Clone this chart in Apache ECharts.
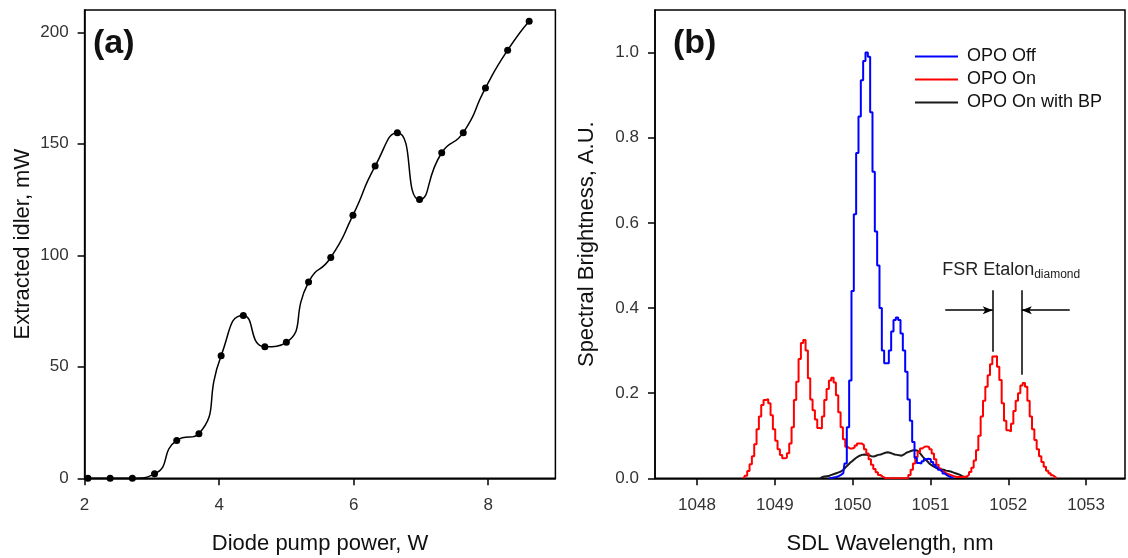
<!DOCTYPE html>
<html>
<head>
<meta charset="utf-8">
<script src="https://cdn.jsdelivr.net/npm/echarts@6/dist/echarts.min.js"></script>
<style>
  html, body { margin: 0; padding: 0; background: #fff; }
  #chart { width: 1128px; height: 558px; }
</style>
</head>
<body>
<div id="chart"></div>
<script>
// ---- (a) extracted idler power vs diode pump power ----
const pumpPowerW = [2.05, 2.38, 2.71, 3.04, 3.37, 3.70, 4.03, 4.36, 4.68, 5.00, 5.33,
                    5.66, 5.99, 6.32, 6.65, 6.98, 7.31, 7.63, 7.96, 8.29, 8.61];
const idlerPowerMW = [0, 0, 0, 2, 17, 20, 55, 73, 59, 61, 88,
                      99, 118, 140, 155, 125, 146, 155, 175, 192, 205];
const pumpTicks = [2, 4, 6, 8];
const idlerTicks = [0, 50, 100, 150, 200];

// ---- (b) SDL spectra, sampled every SAMPLE_STEP nm ----
const SAMPLE_STEP = 0.03;
const OFF_START = 1049.70;   // OPO Off
const ON_START = 1048.60;    // OPO On
const BP_START = 1049.58;    // OPO On with BP

const opoOff = [
  0, 0.001, 0.002, 0.003, 0.005, 0.008, 0.012, 0.035, 0.12, 0.23,
  0.44, 0.62, 0.764, 0.85, 0.935, 0.98, 1.0, 0.99, 0.86, 0.72,
  0.58, 0.5, 0.4, 0.3, 0.27, 0.27, 0.3, 0.345, 0.372, 0.378,
  0.372, 0.34, 0.3, 0.25, 0.185, 0.135, 0.085, 0.048, 0.036, 0.035,
  0.04, 0.045, 0.046, 0.045, 0.038, 0.032, 0.026, 0.02, 0.016, 0.011,
  0.007, 0.004, 0.002, 0
];
const opoOn = [
  0, 0.006, 0.017, 0.033, 0.052, 0.08, 0.115, 0.145, 0.172, 0.184,
  0.186, 0.176, 0.148, 0.115, 0.088, 0.068, 0.055, 0.047, 0.048, 0.059,
  0.082, 0.12, 0.184, 0.227, 0.28, 0.318, 0.325, 0.3, 0.235, 0.185,
  0.16, 0.138, 0.118, 0.117, 0.145, 0.184, 0.21, 0.23, 0.236, 0.225,
  0.195, 0.155, 0.12, 0.092, 0.074, 0.07, 0.07, 0.072, 0.077, 0.082,
  0.082, 0.078, 0.068, 0.058, 0.045, 0.032, 0.022, 0.014, 0.008, 0.004,
  0.001, 0, 0, 0, 0, 0, 0, 0, 0, 0,
  0, 0.008, 0.02, 0.035, 0.05, 0.062, 0.07, 0.074, 0.075, 0.073,
  0.068, 0.058, 0.045, 0.032, 0.023, 0.017, 0.013, 0.01, 0.008, 0.006,
  0.004, 0.003, 0.003, 0.003, 0.003, 0.004, 0.008, 0.015, 0.025, 0.042,
  0.066, 0.1, 0.145, 0.182, 0.215, 0.242, 0.268, 0.286, 0.287, 0.262,
  0.231, 0.176, 0.135, 0.113, 0.11, 0.128, 0.158, 0.182, 0.2, 0.218,
  0.224, 0.215, 0.182, 0.145, 0.115, 0.09, 0.068, 0.052, 0.038, 0.027,
  0.018, 0.012, 0.007, 0.003, 0
];
const opoOnBP = [
  0, 0.003, 0.004, 0.005, 0.006, 0.008, 0.01, 0.012, 0.014, 0.016,
  0.02, 0.026, 0.031, 0.037, 0.041, 0.046, 0.05, 0.053, 0.055, 0.056,
  0.055, 0.054, 0.052, 0.051, 0.053, 0.055, 0.056, 0.058, 0.06, 0.061,
  0.06, 0.058, 0.056, 0.055, 0.054, 0.053, 0.056, 0.06, 0.062, 0.064,
  0.066, 0.066, 0.064, 0.058, 0.051, 0.045, 0.04, 0.034, 0.03, 0.027,
  0.024, 0.022, 0.021, 0.02, 0.018, 0.017, 0.016, 0.014, 0.012, 0.01,
  0.008, 0.005, 0.003, 0
];
const wavelengthTicks = [1048, 1049, 1050, 1051, 1052, 1053];
const brightnessTicks = [0, 0.2, 0.4, 0.6, 0.8, 1.0];

// FSR marker geometry (nm, A.U.)
const fsrLines = [1051.80, 1052.174];
const fsrLineTop = 0.442;
const fsrLineBottoms = [0.297, 0.243];
const fsrArrowLevel = 0.395;
const fsrArrowOuter = [1051.19, 1052.79];
const fsrLabelAt = [1051.15, 0.49];

function spectrum(start, values) {
  return values.map((v, i) => [+(start + i * SAMPLE_STEP).toFixed(3), v]);
}

const FONT = '"Liberation Sans", Arial, Helvetica, sans-serif';
const tickLabel = { fontFamily: FONT, fontSize: 17, color: '#333' };
const axisName = { fontFamily: FONT, fontSize: 22, color: '#111' };
const axisLine = { show: true, lineStyle: { color: '#000', width: 1.5 } };
const axisTickBase = { show: true, length: 7, lineStyle: { color: '#000', width: 1.5 } };

const chart = echarts.init(document.getElementById('chart'), null, { renderer: 'canvas' });

chart.setOption({
  animation: false,
  backgroundColor: '#fff',
  title: [
    { text: '(a)', left: 93, top: 27, padding: 0,
      textStyle: { fontFamily: FONT, fontSize: 34, fontWeight: 'bold', color: '#111' } },
    { text: '(b)', left: 673, top: 27, padding: 0,
      textStyle: { fontFamily: FONT, fontSize: 34, fontWeight: 'bold', color: '#111' } }
  ],
  legend: {
    data: [
      { name: 'OPO Off', icon: 'rect' },
      { name: 'OPO On', icon: 'rect' },
      { name: 'OPO On with BP', icon: 'rect' }
    ],
    orient: 'vertical',
    left: 915,
    top: 46.5,
    padding: 0,
    itemWidth: 43,
    itemHeight: 2,
    itemGap: 3,
    selectedMode: false,
    textStyle: { fontFamily: FONT, fontSize: 18, color: '#111', lineHeight: 20, padding: [0, 0, 0, 4] }
  },
  grid: [
    { left: 84.6, top: 10, width: 470.8, height: 468.3, show: true, outerBoundsMode: 'none',
      borderColor: '#000', borderWidth: 1.5, backgroundColor: 'transparent' },
    { left: 655, top: 10, width: 470, height: 468.3, show: true, outerBoundsMode: 'none',
      borderColor: '#000', borderWidth: 1.5, backgroundColor: 'transparent' }
  ],
  xAxis: [
    {
      gridIndex: 0, type: 'value', min: 2, max: 9,
      name: 'Diode pump power, W', nameLocation: 'middle', nameGap: 55, nameTextStyle: axisName,
      axisLine: axisLine,
      axisTick: Object.assign({ customValues: pumpTicks }, axisTickBase),
      axisLabel: Object.assign({ customValues: pumpTicks, margin: 19 }, tickLabel),
      splitLine: { show: false }
    },
    {
      gridIndex: 1, type: 'value', min: 1047.46, max: 1053.5,
      name: 'SDL Wavelength, nm', nameLocation: 'middle', nameGap: 55, nameTextStyle: axisName,
      axisLine: axisLine,
      axisTick: Object.assign({ customValues: wavelengthTicks }, axisTickBase),
      axisLabel: Object.assign({ customValues: wavelengthTicks, margin: 19,
        formatter: v => String(Math.round(v)) }, tickLabel),
      splitLine: { show: false }
    }
  ],
  yAxis: [
    {
      gridIndex: 0, type: 'value', min: 0, max: 210,
      name: 'Extracted idler, mW', nameLocation: 'middle', nameGap: 51, nameTextStyle: axisName,
      axisLine: axisLine,
      axisTick: Object.assign({ customValues: idlerTicks }, axisTickBase),
      axisLabel: Object.assign({ customValues: idlerTicks, margin: 16 }, tickLabel),
      splitLine: { show: false }
    },
    {
      gridIndex: 1, type: 'value', min: 0, max: 1.1,
      name: 'Spectral Brightness, A.U.', nameLocation: 'middle', nameGap: 57, nameTextStyle: axisName,
      axisLine: axisLine,
      axisTick: Object.assign({ customValues: brightnessTicks }, axisTickBase),
      axisLabel: Object.assign({ customValues: brightnessTicks, margin: 16,
        formatter: v => v.toFixed(1) }, tickLabel),
      splitLine: { show: false }
    }
  ],
  series: [
    {
      name: 'Idler', type: 'line', xAxisIndex: 0, yAxisIndex: 0,
      data: pumpPowerW.map((p, i) => [p, idlerPowerMW[i]]),
      smooth: 0.6,
      symbol: 'circle', symbolSize: 7,
      itemStyle: { color: '#000' },
      lineStyle: { color: '#000', width: 1.5 }
    },
    {
      name: 'OPO On with BP', type: 'line', xAxisIndex: 1, yAxisIndex: 1,
      data: spectrum(BP_START, opoOnBP),
      symbol: 'none', color: '#1a1a1a',
      lineStyle: { color: '#1a1a1a', width: 2 }, z: 2
    },
    {
      name: 'OPO On', type: 'line', xAxisIndex: 1, yAxisIndex: 1,
      data: spectrum(ON_START, opoOn),
      step: 'middle', symbol: 'none', color: '#ff0000',
      lineStyle: { color: '#ff0000', width: 2 }, z: 3
    },
    {
      name: 'OPO Off', type: 'line', xAxisIndex: 1, yAxisIndex: 1,
      data: spectrum(OFF_START, opoOff),
      step: 'middle', symbol: 'none', color: '#0000ff',
      lineStyle: { color: '#0000ff', width: 2 }, z: 4
    },
    {
      // free spectral range marker of the diamond etalon
      name: 'FSR', type: 'line', xAxisIndex: 1, yAxisIndex: 1, data: [],
      symbol: 'none', silent: true,
      markLine: {
        silent: true, animation: false,
        symbol: ['none', 'none'],
        label: { show: false },
        lineStyle: { color: '#000', width: 1.5, type: 'solid' },
        data: [
          [{ coord: [fsrLines[0], fsrLineTop] }, { coord: [fsrLines[0], fsrLineBottoms[0]] }],
          [{ coord: [fsrLines[1], fsrLineTop] }, { coord: [fsrLines[1], fsrLineBottoms[1]] }],
          [{ coord: [fsrArrowOuter[0], fsrArrowLevel] },
           { coord: [fsrLines[0], fsrArrowLevel], symbol: 'arrow', symbolSize: [6, 10] }],
          [{ coord: [fsrArrowOuter[1], fsrArrowLevel] },
           { coord: [fsrLines[1], fsrArrowLevel], symbol: 'arrow', symbolSize: [6, 10] }]
        ]
      },
      markPoint: {
        silent: true, animation: false,
        symbol: 'circle', symbolSize: 0,
        data: [{
          coord: fsrLabelAt,
          label: {
            show: true, position: 'right', distance: 0,
            formatter: '{a|FSR Etalon}{b|diamond}',
            rich: {
              a: { fontFamily: FONT, fontSize: 18, color: '#222' },
              b: { fontFamily: FONT, fontSize: 12, color: '#222', padding: [9, 0, 0, 0] }
            }
          }
        }]
      }
    }
  ]
});
</script>
</body>
</html>
